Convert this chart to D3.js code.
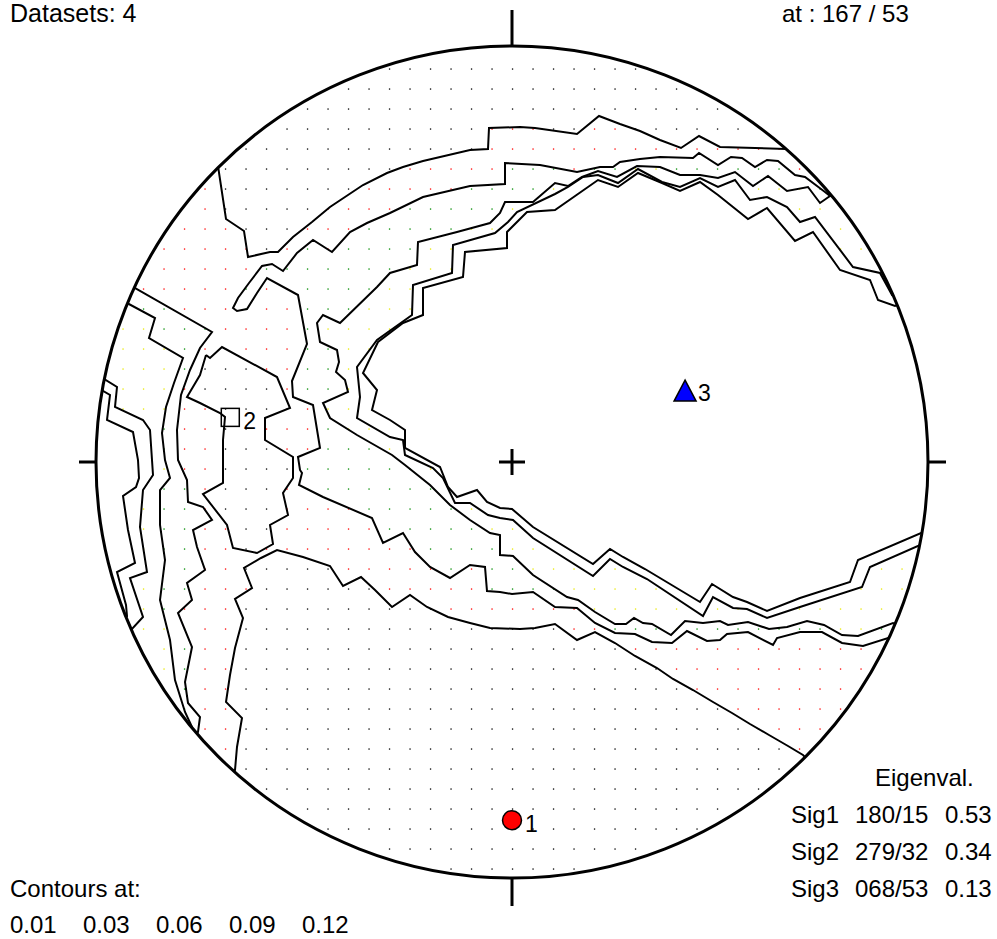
<!DOCTYPE html>
<html>
<head>
<meta charset="utf-8">
<script src="https://cdn.jsdelivr.net/npm/d3@7"></script>
<style>
  body { margin: 0; background: #fff; }
  text { font-family: "Liberation Sans", Arial, sans-serif; fill: #000; }
</style>
</head>
<body>
<svg id="chart" width="997" height="939"></svg>
<script>
// contour levels
const levels = [0.01, 0.03, 0.06, 0.09, 0.12]

const level001 = [
  [[-294,296],[-286,243],[-268,231],[-264,205],[-242,210],[-234,210],[-219,225],[-200,240],[-182,255],[-149,277],[-125,289],[-109,295],[-89,301],[-42,312],[-24,313],[-23,334],[8,335],[23,334],[65,328],[87,346],[108,338],[128,331],[148,322],[169,314],[187,326],[208,315],[243,314],[274,313]],
  [[-277,-308],[-275,-285],[-270,-256],[-286,-240],[-282,-213],[-277,-186],[-269,-156],[-277,-137],[-260,-126],[-268,-106],[-251,-96],[-235,-88],[-209,-95],[-182,-104],[-169,-124],[-151,-115],[-137,-128],[-120,-145],[-102,-133],[-85,-145],[-64,-155],[-42,-161],[-22,-166],[8,-167],[23,-166],[43,-162],[65,-178],[83,-170],[103,-181],[123,-194],[145,-206],[161,-217],[181,-228],[201,-240],[220,-251],[238,-262],[257,-273],[276,-284],[291,-293]],
  [[-306,107],[-312,87],[-325,65],[-312,59],[-292,49],[-287,45],[-289,22],[-289,-21],[-309,-32],[-285,-63],[-279,-86],[-255,-91],[-239,-82],[-242,-63],[-224,-53],[-229,-31],[-219,-16],[-219,5],[-247,22],[-247,44],[-222,54],[-235,85],[-290,115],[-302,104],[-306,107]]
]
const level003 = [
  [[318,266],[313,270],[293,285],[283,287],[266,301],[255,302],[243,295],[230,304],[219,305],[206,297],[187,309],[181,304],[148,305],[128,303],[108,300],[101,295],[88,295],[65,290],[28,297],[-7,299],[-7,278],[-42,276],[-89,265],[-122,249],[-145,239],[-162,230],[-180,210],[-199,222],[-215,209],[-229,191],[-240,198],[-250,196],[-263,179],[-274,164],[-279,154],[-275,151],[-265,153],[-255,169],[-245,184],[-214,167],[-205,118],[-220,81],[-219,65],[-199,57],[-192,14],[-214,5],[-212,-8],[-210,-11],[-213,-23],[-189,-35],[-140,-56],[-129,-81],[-109,-71],[-97,-90],[-82,-105],[-62,-116],[-42,-103],[-27,-105],[-25,-129],[-12,-130],[0,-132],[21,-130],[43,-145],[65,-146],[83,-161],[103,-171],[123,-172],[140,-180],[160,-181],[175,-169],[195,-179],[208,-178],[215,-172],[236,-170],[261,-183],[265,-176],[288,-170],[310,-170],[330,-181],[351,-184],[376,-176]],
  [[-379,175],[-300,130],[-312,114],[-322,92],[-331,67],[-335,32],[-334,2],[-325,-18],[-324,-40],[-309,-45],[-300,-58],[-319,-68],[-315,-85],[-307,-108],[-325,-121],[-320,-138],[-334,-151],[-320,-185],[-327,-220],[-324,-241],[-312,-255],[-314,-270]]
]
const level006 = [
  [[318,266],[308,259],[296,275],[275,271],[256,286],[241,276],[223,290],[206,284],[188,287],[168,287],[148,295],[125,296],[105,285],[86,291],[70,285],[56,276],[43,279],[21,260],[-7,260],[-12,249],[-22,239],[-55,230],[-94,220],[-95,197],[-122,189],[-135,175],[-172,139],[-189,147],[-195,139],[-192,120],[-175,112],[-173,100],[-176,90],[-167,82],[-164,70],[-189,59],[-182,44],[-155,27],[-120,7],[-107,-3],[-82,-23],[-62,-43],[-42,-58],[-22,-71],[-12,-73],[-12,-93],[1,-94],[21,-113],[55,-135],[66,-138],[83,-150],[103,-162],[114,-162],[122,-156],[131,-161],[140,-162],[159,-173],[173,-159],[191,-161],[208,-159],[216,-163],[236,-160],[257,-167],[275,-165],[295,-159],[312,-163],[330,-173],[346,-174],[381,-161]],
  [[-385,159],[-357,144],[-363,124],[-329,104],[-338,79],[-346,55],[-350,29],[-347,2],[-342,-16],[-352,-28],[-352,-63],[-347,-98],[-352,-138],[-342,-178],[-337,-218],[-327,-250],[-320,-265]]
]
const level009 = [
  [[380,167],[368,189],[341,195],[303,245],[288,240],[275,255],[255,265],[238,262],[223,282],[206,275],[188,284],[168,275],[150,280],[126,293],[106,279],[86,287],[71,285],[56,275],[43,268],[5,250],[-4,240],[-17,229],[-59,217],[-60,189],[-99,177],[-100,147],[-135,122],[-155,95],[-152,65],[-155,44],[-122,25],[-109,22],[-107,7],[-79,-6],[-69,-16],[-57,-41],[-42,-41],[-24,-53],[-12,-56],[1,-58],[21,-76],[81,-114],[98,-97],[111,-105],[135,-117],[191,-154],[201,-135],[221,-146],[235,-147],[255,-156],[288,-145],[350,-125],[358,-105],[408,-83]],
  [[-408,83],[-395,75],[-397,55],[-369,42],[-362,32],[-360,2],[-359,-13],[-369,-28],[-372,-65],[-365,-110],[-382,-116],[-369,-155],[-380,-167]]
]
const level012 = [
  [[383,156],[366,162],[358,182],[328,192],[301,230],[283,221],[255,254],[236,243],[206,267],[188,280],[168,271],[150,279],[126,289],[106,275],[86,282],[43,252],[15,250],[-5,230],[-5,214],[-47,210],[-49,185],[-89,174],[-89,147],[-109,139],[-134,120],[-149,89],[-135,72],[-140,52],[-122,42],[-107,32],[-107,14],[-72,-5],[-64,-25],[-55,-35],[-35,-28],[-25,-40],[-12,-46],[0,-47],[21,-65],[81,-102],[98,-87],[111,-95],[133,-107],[188,-140],[200,-122],[221,-135],[235,-140],[255,-149],[288,-136],[338,-120],[346,-98],[409,-71]],
  [[-409,71],[-402,67],[-405,42],[-379,30],[-374,2],[-373,-16],[-376,-25],[-389,-34],[-384,-68],[-377,-101],[-395,-110],[-386,-143],[-385,-154]]
]
const contourLines = [level001, level003, level006, level009, level012]

// counting-grid dot colour for each density band (below 0.01 ... above 0.12)
const bandColors = ['#000000', '#ff0000', '#008a00', '#e8e800', null, null]

// eigenvectors (trend / plunge) and eigenvalues
const eigenNames = ['Sig1', 'Sig2', 'Sig3']
const eigenTrend = [180, 279, 68]
const eigenPlunge = [15, 32, 53]
const eigenValues = ['0.53', '0.34', '0.13']
const eigenShapes = ['circle', 'square', 'triangle']
const eigenColors = ['#ff0000', '#ffffff', '#0000ff']

const headerLeft = 'Datasets: 4'
const headerRight = 'at : 167 / 53'

const cx = 512, cy = 462, R = 416
const netR = 416

const svg = d3.select('#chart')

const x = d3.scaleLinear().domain([-netR, netR]).range([cx - R, cx + R])
const y = d3.scaleLinear().domain([-netR, netR]).range([cy + R, cy - R])

// Schmidt (equal-area) lower hemisphere projection
const schmidt = (trend, plunge) => {
  const r = Math.SQRT2 * Math.sin(((90 - plunge) / 2) * Math.PI / 180) * netR
  const t = trend * Math.PI / 180
  return [r * Math.sin(t), r * Math.cos(t)]
}

// open lines end on the primitive: push the end points just outside it
const toRim = (p) => {
  const r = Math.hypot(p[0], p[1])
  return [p[0] * (netR + 5) / r, p[1] * (netR + 5) / r]
}
const isClosed = (l) => l[0][0] === l[l.length - 1][0] && l[0][1] === l[l.length - 1][1]
const extended = contourLines.map((lvl) =>
  lvl.map((l) => (isClosed(l) ? l : [toRim(l[0]), ...l, toRim(l[l.length - 1])]))
)

// band of a point: parity of contour crossings from a point below 0.01
const lowPoint = [0, -330]
const orient = (a, b, c) => (b[0] - a[0]) * (c[1] - a[1]) - (b[1] - a[1]) * (c[0] - a[0])
const crosses = (p1, p2, p3, p4) =>
  (orient(p3, p4, p1) > 0) !== (orient(p3, p4, p2) > 0) &&
  (orient(p1, p2, p3) > 0) !== (orient(p1, p2, p4) > 0)
const bandOf = (p) => {
  let band = 0
  extended.forEach((lvl) => {
    let n = 0
    lvl.forEach((l) => {
      for (let i = 1; i < l.length; i++) if (crosses(p, lowPoint, l[i - 1], l[i])) n++
    })
    if (n % 2 === 1) band++
  })
  return band
}

// counting-grid texture
const dots = []
for (let gx = cx + 0.5 - 20.5 * 20; gx <= cx + R; gx += 20.5) {
  for (let gy = cy - R + 3; gy <= cy + R; gy += 20) {
    const dx = gx - cx, dy = gy - cy
    if (dx * dx + dy * dy > (R - 4) * (R - 4)) continue
    const color = bandColors[bandOf([x.invert(gx), y.invert(gy)])]
    if (color) dots.push({ gx, gy, color })
  }
}
svg.append('g')
  .selectAll('rect')
  .data(dots)
  .join('rect')
  .attr('x', (d) => d.gx - 0.6)
  .attr('y', (d) => d.gy - 0.6)
  .attr('width', 1.3)
  .attr('height', 1.3)
  .attr('fill', (d) => d.color)

// contours, clipped to the primitive
svg.append('clipPath')
  .attr('id', 'net-clip')
  .append('circle')
  .attr('cx', x(0))
  .attr('cy', y(0))
  .attr('r', R)

const line = d3.line().x((d) => x(d[0])).y((d) => y(d[1]))
svg.append('g')
  .attr('clip-path', 'url(#net-clip)')
  .selectAll('path')
  .data(extended.flat())
  .join('path')
  .attr('d', line)
  .attr('fill', 'none')
  .attr('stroke', '#000')
  .attr('stroke-width', 2)
  .attr('stroke-linejoin', 'miter')

// primitive circle
svg.append('circle')
  .attr('cx', x(0))
  .attr('cy', y(0))
  .attr('r', R)
  .attr('fill', 'none')
  .attr('stroke', '#000')
  .attr('stroke-width', 3)

// N/E/S/W ticks and centre cross
const ticks = [
  [x(0), y(netR) - 36, x(0), y(netR)],
  [x(0), y(-netR), x(0), y(-netR) + 28],
  [x(-netR) - 17, y(0), x(-netR), y(0)],
  [x(netR), y(0), x(netR) + 18, y(0)],
  [x(0) - 13, y(0), x(0) + 13, y(0)],
  [x(0), y(0) - 13, x(0), y(0) + 13]
]
svg.append('g')
  .selectAll('line')
  .data(ticks)
  .join('line')
  .attr('x1', (d) => d[0])
  .attr('y1', (d) => d[1])
  .attr('x2', (d) => d[2])
  .attr('y2', (d) => d[3])
  .attr('stroke', '#000')
  .attr('stroke-width', 3)

// eigenvector markers
const markers = eigenNames.map((name, i) => {
  const p = schmidt(eigenTrend[i], eigenPlunge[i])
  return { i, px: x(p[0]), py: y(p[1]), shape: eigenShapes[i], color: eigenColors[i] }
})
const mk = svg.append('g')
markers.forEach((m) => {
  if (m.shape === 'circle') {
    mk.append('circle').attr('cx', m.px).attr('cy', m.py).attr('r', 9.5)
      .attr('fill', m.color).attr('stroke', '#000').attr('stroke-width', 1.5)
  } else if (m.shape === 'square') {
    mk.append('rect').attr('x', m.px - 9).attr('y', m.py - 9).attr('width', 18).attr('height', 18)
      .attr('fill', 'none').attr('stroke', '#000').attr('stroke-width', 1.5)
  } else {
    mk.append('path')
      .attr('d', `M${m.px},${m.py - 12}L${m.px + 11},${m.py + 9}L${m.px - 11},${m.py + 9}Z`)
      .attr('fill', m.color).attr('stroke', '#000').attr('stroke-width', 1.5)
  }
  mk.append('text')
    .attr('x', m.px + 13)
    .attr('y', m.py + (m.shape === 'triangle' ? 9 : 12))
    .style('font-size', '23px')
    .text(m.i + 1)
})

// header / legend text
svg.append('text').attr('x', 10).attr('y', 22).style('font-size', '25px').text(headerLeft)
svg.append('text').attr('x', 782).attr('y', 22).style('font-size', '24px').text(headerRight)

svg.append('text').attr('x', 10).attr('y', 897).style('font-size', '24px').text('Contours at:')
svg.append('g')
  .selectAll('text')
  .data(levels)
  .join('text')
  .attr('x', (d, i) => 10 + i * 73)
  .attr('y', 933)
  .style('font-size', '24px')
  .text((d) => d.toFixed(2))

svg.append('text').attr('x', 875).attr('y', 786).style('font-size', '24px').text('Eigenval.')
const rows = svg.append('g')
eigenNames.forEach((name, i) => {
  const by = 823 + i * 37
  const tp = String(eigenTrend[i]).padStart(3, '0') + '/' + String(eigenPlunge[i]).padStart(2, '0')
  rows.append('text').attr('x', 791).attr('y', by).style('font-size', '24px').text(name)
  rows.append('text').attr('x', 855).attr('y', by).style('font-size', '24px').text(tp)
  rows.append('text').attr('x', 945).attr('y', by).style('font-size', '24px').text(eigenValues[i])
})
</script>
</body>
</html>
